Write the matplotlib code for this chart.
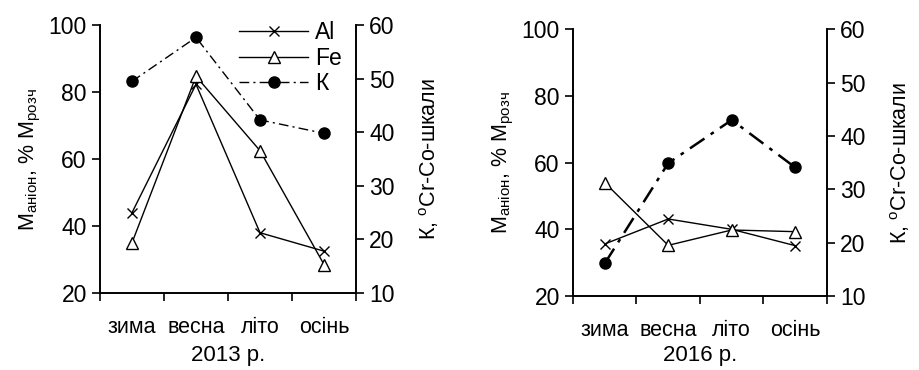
import matplotlib
matplotlib.use("Agg")
import matplotlib.pyplot as plt

plt.rcParams['font.family'] = ['Liberation Sans', 'DejaVu Sans']
plt.rcParams['mathtext.fontset'] = 'custom'
plt.rcParams['mathtext.rm'] = 'Liberation Sans'

seasons = ['зима', 'весна', 'літо', 'осінь']
years = ['2013 р.', '2016 р.']

al_2013 = [44, 82.3, 38, 32.5]
fe_2013 = [35, 84.7, 62.5, 28.5]
k_2013 = [49.5, 57.7, 42.3, 39.8]

al_2016 = [35.6, 43.1, 40, 35.1]
fe_2016 = [54, 35.2, 39.8, 39.3]
k_2016 = [16.1, 34.9, 43, 34.1]

fig = plt.figure(figsize=(9.2, 3.7), dpi=100)
positions = [[0.1087, 0.208, 0.2783, 0.7243], [0.6228, 0.2, 0.2761, 0.7208]]
data = [(al_2013, fe_2013, k_2013, 1.0), (al_2016, fe_2016, k_2016, 1.8)]
xpads = [5, 3]

ylab = 'M$_{\\mathregular{аніон}}$, % M$_{\\mathregular{розч}}$'
y2lab = 'К, $^{\\mathregular{o}}$Cr-Co-шкали'
x = list(range(len(seasons)))

for i, (al, fe, k, klw) in enumerate(data):
    ax = fig.add_axes(positions[i])
    ax2 = ax.twinx()
    l1, = ax.plot(x, al, color='black', lw=1.0, marker='x', ms=7, mew=1.0, label='Al')
    l2, = ax.plot(x, fe, color='black', lw=1.0, marker='^', ms=8, mfc='white', mew=1.0, label='Fe')
    l3, = ax2.plot(x, k, color='black', lw=klw, ls=(0, (7, 3, 1.5, 3)), marker='o', ms=8, label='К')

    ax.set_ylim(20, 100)
    ax.set_yticks([20, 40, 60, 80, 100])
    ax2.set_ylim(10, 60)
    ax2.set_yticks([10, 20, 30, 40, 50, 60])
    ax.set_xlim(-0.5, 3.5)
    ax.set_xticks([-0.5, 0.5, 1.5, 2.5, 3.5])
    ax.set_xticklabels([])
    ax.set_xticks(x, minor=True)
    ax.set_xticklabels(seasons, minor=True, fontsize=15.5)
    ax.tick_params(axis='x', which='major', direction='out', length=6, width=1.2)
    ax.tick_params(axis='x', which='minor', length=0, pad=17)
    ax.tick_params(axis='y', direction='out', length=6, width=1.2, labelsize=16.5)
    ax2.tick_params(axis='y', direction='out', length=6, width=1.2, labelsize=16.5)

    for a in (ax, ax2):
        a.spines['top'].set_visible(False)
        for s in ('left', 'right', 'bottom'):
            a.spines[s].set_linewidth(1.2)

    ax.set_ylabel(ylab, fontsize=15.5, labelpad=4)
    ax2.set_ylabel(y2lab, fontsize=15.5, labelpad=16)
    ax.set_xlabel(years[i], fontsize=16, labelpad=xpads[i])

    if i == 0:
        ax.legend([l1, l2, l3], ['Al', 'Fe', 'К'], loc='upper right', frameon=False,
                  fontsize=16.5, handlelength=3.0, handletextpad=0.3, labelspacing=0.12,
                  borderaxespad=0.0, bbox_to_anchor=(0.98, 1.05))

fig.savefig('out.png', dpi=100)
